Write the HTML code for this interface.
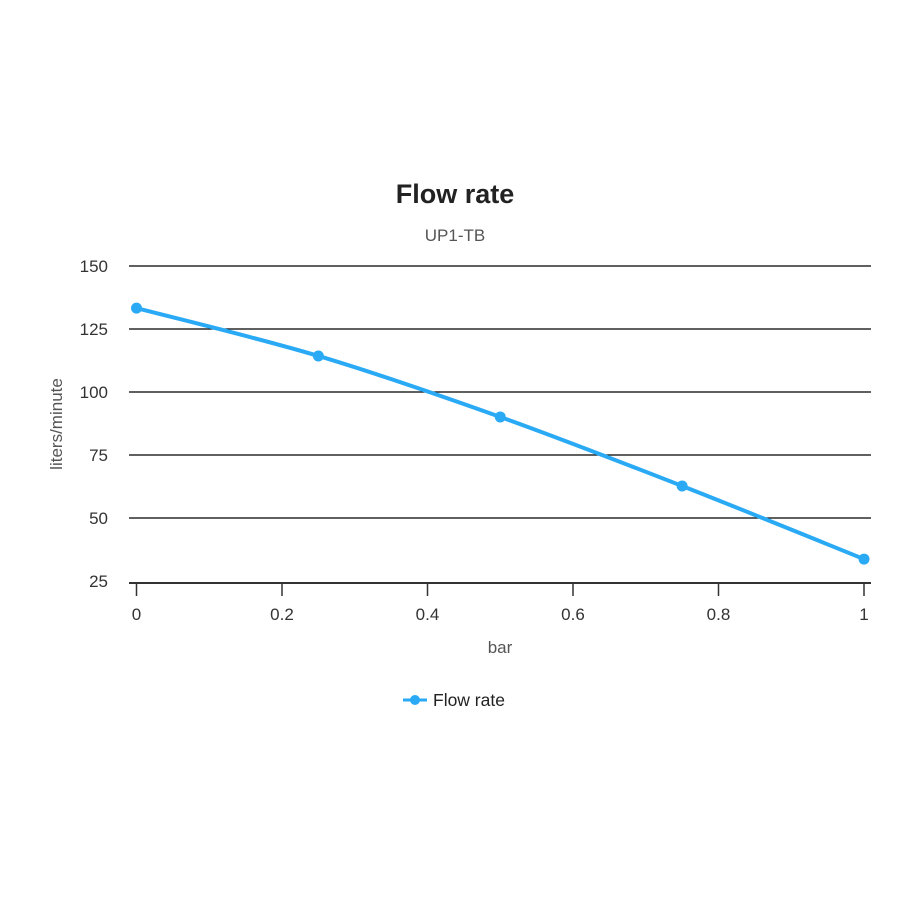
<!DOCTYPE html>
<html><head><meta charset="utf-8"><style>body{margin:0;background:#fff}svg{display:block;font-family:"Liberation Sans",Arial,sans-serif}</style></head>
<body>
<svg id="c" width="900" height="900">
<text x="455" y="203" text-anchor="middle" font-size="27" font-weight="bold" fill="#222">Flow rate</text>
<text x="455" y="241" text-anchor="middle" font-size="17" fill="#555">UP1-TB</text>
<text transform="translate(62,424) rotate(-90)" text-anchor="middle" font-size="17" fill="#555">liters/minute</text>
<text x="500" y="653" text-anchor="middle" font-size="17" fill="#555">bar</text>
<g id="grid"></g><g id="series"></g>
<g>
<line x1="403" y1="700" x2="427" y2="700" stroke="#2aaaf5" stroke-width="3"/>
<circle cx="415" cy="700" r="5" fill="#2aaaf5"/>
<text x="433" y="706" font-size="17.5" fill="#222">Flow rate</text></g>
</svg>
<script>
const xTicks=[0,0.2,0.4,0.6,0.8,1];
const yTicks=[25,50,75,100,125,150];
const xVals=[0,0.25,0.5,0.75,1];
const yVals=[133.3,114.3,90.1,62.7,33.7];
const NS="http://www.w3.org/2000/svg";
function X(v){return 136.5+v*727.5;}
function Y(v){return 581-(v-25)*63/25;}
function mk(t,a,p){const e=document.createElementNS(NS,t);for(const k in a)e.setAttribute(k,a[k]);p.appendChild(e);return e;}
const g=document.getElementById('grid'),s=document.getElementById('series');
yTicks.forEach(v=>{
 const y=v===25?583:Y(v);
 const l=mk('line',{x1:129,x2:871,y1:y,y2:y,stroke:v===25?'#333':'#000','stroke-width':v===25?2:1.3},g);
 
 
 const t=mk('text',{x:108,y:Y(v)+6,'text-anchor':'end','font-size':17,fill:'#333'},g);
 t.textContent=v;
 
 
});
xTicks.forEach(v=>{
 const l=mk('line',{x1:X(v),x2:X(v),y1:583,y2:596,stroke:'#333','stroke-width':1.5},g);
 
 
 const t=mk('text',{x:X(v),y:620,'text-anchor':'middle','font-size':17,fill:'#333'},g);
 t.textContent=v;
 
 
});
const pts=xVals.map((v,i)=>[X(v),Y(yVals[i])]);
let d='M'+pts[0];
for(let i=0;i<pts.length-1;i++){
 const p0=pts[i-1]||pts[i],p1=pts[i],p2=pts[i+1],p3=pts[i+2]||p2;
 const c1=[p1[0]+(p2[0]-p0[0])/6,p1[1]+(p2[1]-p0[1])/6],c2=[p2[0]-(p3[0]-p1[0])/6,p2[1]-(p3[1]-p1[1])/6];
 d+=' C'+c1+' '+c2+' '+p2;
}
const path=mk('path',{d:d,fill:'none',stroke:'#2aaaf5','stroke-width':4},s);


pts.forEach(p=>{
 const c=mk('circle',{cx:p[0],cy:p[1],r:5.5,fill:'#2aaaf5'},s);
 
 
});
</script>
</body></html>
